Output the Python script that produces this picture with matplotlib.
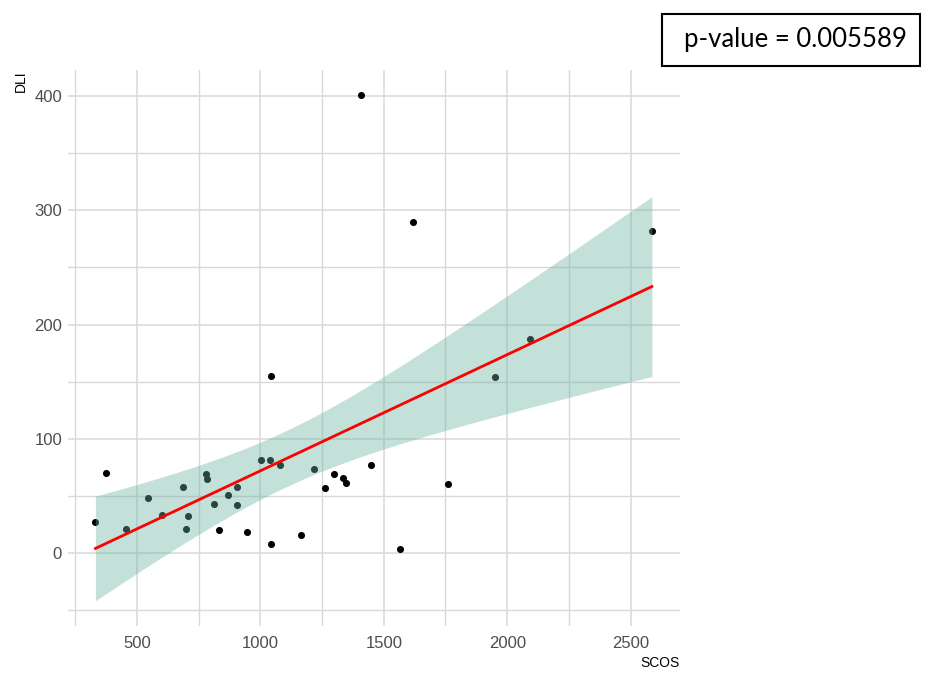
import numpy as np
import matplotlib
matplotlib.use('Agg')
import matplotlib.pyplot as plt
from matplotlib.patches import Rectangle

# datos
scos = [332, 373, 454, 545, 602, 687, 698, 707, 779, 784, 814, 831, 870, 906, 906,
        947, 1002, 1039, 1043, 1043, 1078, 1166, 1217, 1262, 1298, 1333, 1348, 1409,
        1449, 1567, 1617, 1759, 1949, 2091, 2586]
dli = [27.2, 70.2, 20.4, 47.9, 32.7, 57.9, 20.4, 32.5, 69.3, 64.3, 42.4, 19.6, 50.3,
       57.9, 41.5, 18.4, 81.0, 81.0, 154.6, 7.3, 76.6, 15.2, 73.1, 56.7, 68.9, 65.8,
       61.4, 400.9, 76.6, 2.9, 289.5, 59.9, 154.4, 187.7, 282.0]
x_ticks = [500, 1000, 1500, 2000, 2500]
y_ticks = [0, 100, 200, 300, 400]
p_texto = 'p-value = 0.005589'

x = np.array(scos, dtype=float)
y = np.array(dli, dtype=float)
n = len(x)

# regresion lineal con intervalo de confianza 95%
b1, b0 = np.polyfit(x, y, 1)
res = y - (b0 + b1 * x)
s = np.sqrt(np.sum(res ** 2) / (n - 2))
T_975 = 2.0345  # t de Student, gl = 33
xs = np.linspace(x.min(), x.max(), 80)
ys = b0 + b1 * xs
se = s * np.sqrt(1 / n + (xs - x.mean()) ** 2 / np.sum((x - x.mean()) ** 2))
lo = ys - T_975 * se
hi = ys + T_975 * se

fig = plt.figure(figsize=(9.32, 6.73), dpi=100)
ax = fig.add_axes([67.6 / 932, 47 / 673, 612.1 / 932, 556 / 673])

ax.scatter(x, y, s=26, color='black', zorder=2, linewidths=0)
ax.fill_between(xs, lo, hi, color='#69b3a2', alpha=0.4, linewidth=0, zorder=3)
ax.plot(xs, ys, color='red', linewidth=2, zorder=4)

ax.set_xticks(x_ticks)
ax.set_yticks(y_ticks)
ax.set_xticks([v + 250 for v in [0] + x_ticks[:-1]], minor=True)
ax.set_yticks([v - 50 for v in y_ticks], minor=True)

# limites estilo ggplot (5% de expansion), despues de los ticks
xmin, xmax = x.min(), x.max()
ymin, ymax = min(y.min(), lo.min()), max(y.max(), hi.max())
ax.set_xlim(xmin - 0.05 * (xmax - xmin), xmax + 0.05 * (xmax - xmin))
ax.set_ylim(ymin - 0.05 * (ymax - ymin), ymax + 0.05 * (ymax - ymin))

ax.grid(which='major', color='#D9D9D9', linewidth=1.1)
ax.grid(which='minor', color='#D9D9D9', linewidth=1.0)
ax.set_axisbelow(True)
for sp in ax.spines.values():
    sp.set_visible(False)
ax.tick_params(which='both', length=0)
ax.tick_params(axis='x', pad=7, labelsize=12, labelcolor='#4D4D4D')
ax.tick_params(axis='y', pad=4, labelsize=12, labelcolor='#4D4D4D')
for lab in ax.get_xticklabels() + ax.get_yticklabels():
    lab.set_fontfamily('Liberation Sans')

fig.text(21 / 932, 1 - 70 / 673, 'DLI', rotation=90, ha='center', va='top',
         fontsize=10, family='Liberation Sans')
fig.text(680 / 932, 1 - 663 / 673, 'SCOS', ha='right', va='center',
         fontsize=10, family='Liberation Sans')

# caja del p-value
fig.patches.append(Rectangle((662 / 932, 1 - 66 / 673), 258 / 932, 52 / 673,
                             transform=fig.transFigure, fill=False,
                             edgecolor='black', linewidth=1.5))
fig.text(795 / 932, 1 - 40 / 673, p_texto, ha='center', va='center',
         fontsize=18.5, family='Lato')

fig.savefig('out.png', dpi=100)
